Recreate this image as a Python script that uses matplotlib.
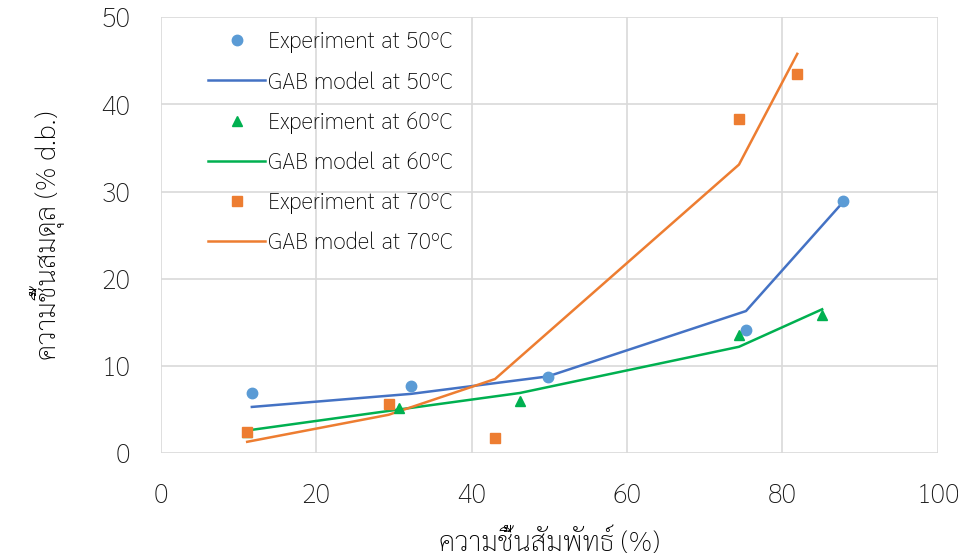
import matplotlib
matplotlib.use("Agg")
import matplotlib.pyplot as plt

plt.rcParams["font.family"] = ["Sarabun", "DejaVu Sans"]
plt.rcParams["font.weight"] = "light"

# relative humidity (%) and equilibrium moisture content (% d.b.)
rh_50 = [11.7, 32.2, 49.8, 75.3, 87.8]
exp_50 = [6.9, 7.7, 8.7, 14.1, 28.9]
gab_50 = [5.3, 6.8, 8.8, 16.3, 28.8]

rh_60 = [11.1, 30.6, 46.2, 74.4, 85.1]
exp_60 = [2.4, 5.2, 6.0, 13.6, 15.8]
gab_60 = [2.6, 5.0, 6.9, 12.2, 16.5]

rh_70 = [11.1, 29.3, 43.0, 74.4, 81.9]
exp_70 = [2.4, 5.6, 1.7, 38.3, 43.5]
gab_70 = [1.3, 4.4, 8.5, 33.1, 45.8]

x_ticks = [0, 20, 40, 60, 80, 100]
y_ticks = [0, 10, 20, 30, 40, 50]

fig = plt.figure(figsize=(9.58, 5.56), dpi=100)
ax = fig.add_axes([0.168, 0.185, 0.811, 0.784])

ax.plot(rh_50, exp_50, "o", color="#5B9BD5", ms=7.5, label="Experiment at 50ºC", zorder=3)
ax.plot(rh_50, gab_50, "-", color="#4472C4", lw=1.8, label="GAB model at 50ºC")
ax.plot(rh_60, exp_60, "^", color="#00B050", ms=7.5, label="Experiment at 60ºC", zorder=3)
ax.plot(rh_60, gab_60, "-", color="#00B050", lw=1.8, label="GAB model at 60ºC")
ax.plot(rh_70, exp_70, "s", color="#ED7D31", ms=7, label="Experiment at 70ºC", zorder=3)
ax.plot(rh_70, gab_70, "-", color="#ED7D31", lw=1.8, label="GAB model at 70ºC")

ax.set_xlim(0, 100)
ax.set_ylim(0, 50)
ax.set_xticks(x_ticks)
ax.set_yticks(y_ticks)
ax.tick_params(length=0, labelsize=19.5, colors="#1a1a1a")
ax.tick_params(axis="x", pad=21)
ax.tick_params(axis="y", pad=22)
ax.grid(True, color="#D9D9D9", lw=1.2)
ax.set_axisbelow(True)
for s in ax.spines.values():
    s.set_visible(False)

ax.set_xlabel("ความชื้นสัมพัทธ์ (%)", fontsize=20, fontweight="light", labelpad=14)
ax.set_ylabel("ความชื้นสมดุล (% d.b.)", fontsize=20, fontweight="light", labelpad=26)

ax.legend(loc="upper left", bbox_to_anchor=(0.046, 0.995), frameon=False, borderpad=0,
          fontsize=16.5, handlelength=2.5, labelspacing=0.77, handletextpad=0.12)

fig.savefig("out.png")
